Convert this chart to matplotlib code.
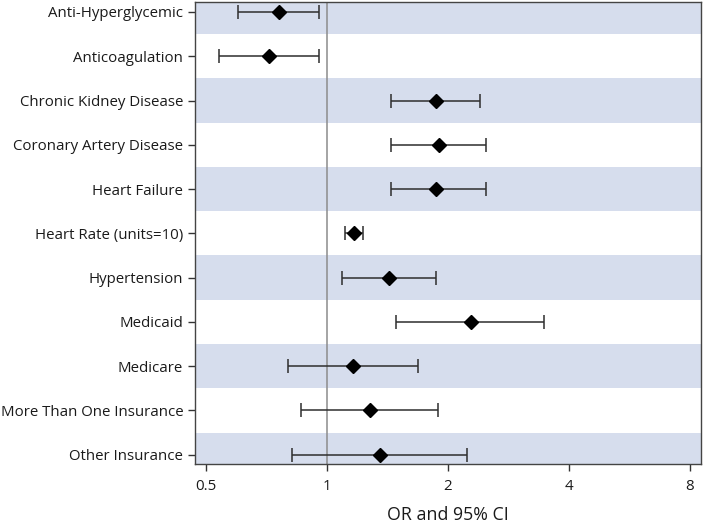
import matplotlib
matplotlib.use("Agg")
import matplotlib.pyplot as plt
import numpy as np

categories = ["Anti-Hyperglycemic", "Anticoagulation", "Chronic Kidney Disease",
              "Coronary Artery Disease", "Heart Failure", "Heart Rate (units=10)",
              "Hypertension", "Medicaid", "Medicare", "More Than One Insurance",
              "Other Insurance"]
odds_ratio = [0.76, 0.72, 1.87, 1.90, 1.87, 1.17, 1.43, 2.28, 1.16, 1.28, 1.36]
ci_lower = [0.60, 0.54, 1.445, 1.445, 1.445, 1.11, 1.09, 1.49, 0.80, 0.865, 0.82]
ci_upper = [0.955, 0.955, 2.41, 2.49, 2.49, 1.23, 1.87, 3.48, 1.69, 1.895, 2.23]
x_ticks = [0.5, 1, 2, 4, 8]
x_tick_labels = ["0.5", "1", "2", "4", "8"]

plt.rcParams['font.family'] = ['Open Sans', 'DejaVu Sans']
fig = plt.figure(figsize=(7.09, 5.23), dpi=100)
ax = fig.add_axes([195/709, 1 - 464/523, (700.7 - 195)/709, (464 - 2)/523])

y = np.arange(len(categories))
band_color = "#d6dded"
for i in y:
    if i % 2 == 0:
        ax.axhspan(i - 0.5, i + 0.5, color=band_color, lw=0, zorder=0)

ax.axvline(1, color="#8c8c8c", lw=1.1, zorder=1)

or_arr = np.array(odds_ratio)
lo = or_arr - np.array(ci_lower)
hi = np.array(ci_upper) - or_arr
ax.errorbar(or_arr, y, xerr=[lo, hi], fmt="none", ecolor="#2e2e2e",
            elinewidth=1.1, capsize=5, capthick=1.1, zorder=2)
ax.plot(or_arr, y, linestyle="none", marker="D", color="black", markersize=7.5, zorder=3)

ax.set_xscale("log", base=2)
ax.set_xlim(0.47, 8.52)
ax.set_ylim(10.21, -0.225)
ax.set_xticks(x_ticks)
ax.set_xticklabels(x_tick_labels)
ax.minorticks_off()
ax.set_yticks(y)
ax.set_yticklabels(categories)
ax.tick_params(axis="both", labelsize=10.8, colors="#333333", labelcolor="#1a1a1a", length=5, width=1)
ax.tick_params(axis="x", pad=6)
ax.set_xlabel("OR and 95% CI", fontsize=12.8, labelpad=8.5, color="#1a1a1a")
for s in ax.spines.values():
    s.set_color("#444444")
    s.set_linewidth(1)

fig.savefig("out.png", dpi=100)
